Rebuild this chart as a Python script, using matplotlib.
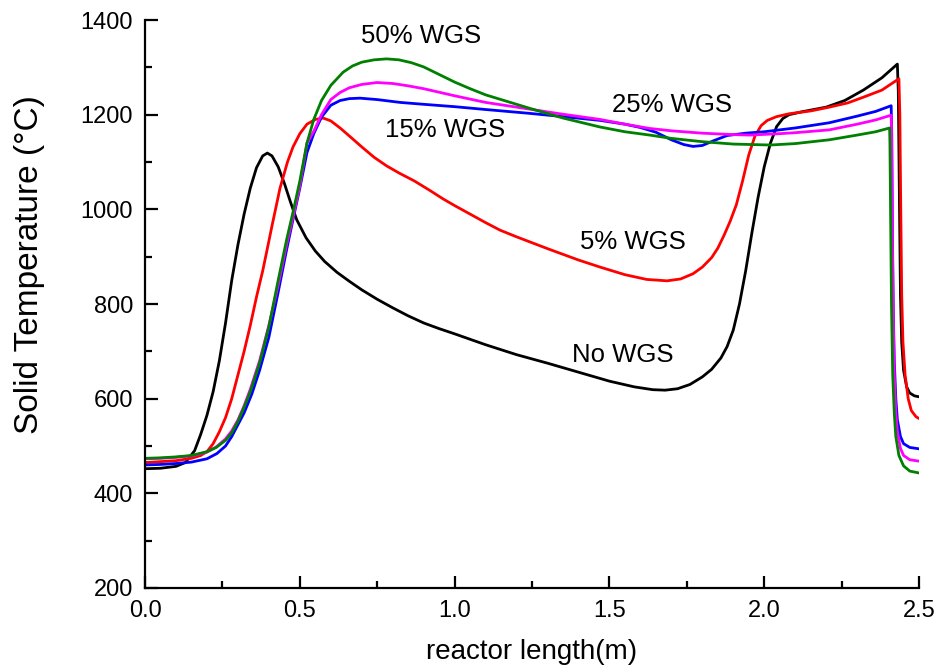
import matplotlib
matplotlib.use("Agg")
import matplotlib.pyplot as plt
from matplotlib.ticker import MultipleLocator, FormatStrFormatter

plt.rcParams['font.family'] = ['Liberation Sans', 'DejaVu Sans']

# ---- data ----
x_no = [0, 0.05, 0.1, 0.13, 0.16, 0.18, 0.2, 0.22, 0.24, 0.26, 0.28, 0.3, 0.32, 0.34, 0.36, 0.38,
        0.395, 0.41, 0.43, 0.45, 0.47, 0.49, 0.52, 0.55, 0.58, 0.62, 0.66, 0.7, 0.75, 0.8, 0.85,
        0.9, 0.95, 1.0, 1.1, 1.2, 1.3, 1.4, 1.5, 1.58, 1.64, 1.68, 1.72, 1.76, 1.8, 1.83, 1.86,
        1.88, 1.9, 1.92, 1.94, 1.96, 1.98, 2.0, 2.02, 2.04, 2.06, 2.08, 2.12, 2.2, 2.26, 2.32,
        2.38, 2.43, 2.433, 2.437, 2.44, 2.444, 2.45, 2.46, 2.47, 2.485, 2.5]
t_no = [452, 453, 457, 465, 490, 525, 565, 615, 680, 760, 850, 925, 990, 1045, 1088, 1113,
        1119, 1113, 1090, 1055, 1015, 978, 940, 912, 890, 867, 848, 830, 810, 792, 775,
        760, 748, 737, 714, 693, 675, 656, 637, 625, 619, 618, 621, 630, 646, 662, 686,
        710, 745, 800, 870, 950, 1025, 1090, 1140, 1175, 1192, 1200, 1206, 1216, 1230, 1252,
        1278, 1307, 1250, 1000, 820, 720, 660, 625, 612, 606, 604]

x_5 = [0, 0.05, 0.1, 0.15, 0.18, 0.2, 0.22, 0.24, 0.26, 0.28, 0.3, 0.32, 0.34, 0.36, 0.38, 0.394,
       0.41, 0.436, 0.46, 0.478, 0.5, 0.523, 0.55, 0.575, 0.6, 0.63, 0.66, 0.7, 0.74, 0.78, 0.82,
       0.87, 0.92, 0.963, 1.0, 1.05, 1.1, 1.147, 1.2, 1.3, 1.4, 1.47, 1.55, 1.62, 1.686, 1.73,
       1.77, 1.8, 1.83, 1.85, 1.87, 1.89, 1.91, 1.93, 1.95, 1.97, 1.99, 2.01, 2.04, 2.08, 2.15,
       2.21, 2.27, 2.32, 2.38, 2.435, 2.438, 2.441, 2.444, 2.448, 2.455, 2.465, 2.475, 2.49, 2.5]
t_5 = [465, 467, 469, 474, 480, 488, 505, 530, 560, 600, 650, 700, 755, 815, 870, 914,
       965, 1045, 1100, 1132, 1160, 1180, 1190, 1193, 1187, 1172, 1155, 1132, 1110, 1092, 1077,
       1060, 1040, 1022, 1008, 990, 972, 956, 942, 917, 893, 878, 862, 852, 849, 853,
       864, 878, 898, 918, 945, 975, 1010, 1060, 1115, 1155, 1177, 1188, 1196, 1202, 1208,
       1216, 1225, 1237, 1252, 1276, 1200, 1000, 820, 720, 650, 600, 575, 562, 558]

x_15 = [0, 0.05, 0.1, 0.15, 0.2, 0.232, 0.26, 0.28, 0.3, 0.32, 0.345, 0.37, 0.4, 0.43, 0.457, 0.48,
        0.5, 0.523, 0.545, 0.57, 0.6, 0.63, 0.66, 0.694, 0.75, 0.824, 0.9, 1.0, 1.1, 1.24, 1.35,
        1.47, 1.55, 1.6, 1.65, 1.7, 1.74, 1.77, 1.8, 1.84, 1.88, 1.94, 2.0, 2.1, 2.21, 2.3, 2.36,
        2.41, 2.412, 2.414, 2.417, 2.42, 2.425, 2.43, 2.44, 2.45, 2.47, 2.5]
t_15 = [460, 461, 463, 466, 473, 484, 500, 520, 545, 570, 610, 660, 730, 825, 914, 985,
        1045, 1120, 1160, 1195, 1220, 1230, 1234, 1235, 1232, 1226, 1222, 1217, 1211, 1203, 1196,
        1188, 1180, 1173, 1163, 1147, 1137, 1133, 1135, 1146, 1156, 1161, 1164, 1172, 1183, 1197, 1207,
        1219, 1150, 950, 780, 680, 600, 555, 520, 505, 497, 494]

x_25 = [0, 0.05, 0.1, 0.15, 0.2, 0.23, 0.26, 0.28, 0.3, 0.32, 0.34, 0.37, 0.4, 0.43, 0.457, 0.48,
        0.5, 0.523, 0.545, 0.57, 0.6, 0.63, 0.66, 0.7, 0.749, 0.8, 0.85, 0.9, 1.0, 1.1, 1.24, 1.35,
        1.47, 1.55, 1.63, 1.7, 1.8, 1.9, 1.954, 2.05, 2.1, 2.21, 2.3, 2.36, 2.41, 2.411, 2.413,
        2.416, 2.42, 2.425, 2.43, 2.44, 2.45, 2.47, 2.5]
t_25 = [473, 474, 476, 479, 487, 498, 515, 532, 555, 585, 620, 680, 755, 840, 925, 990,
        1050, 1140, 1165, 1200, 1232, 1247, 1257, 1264, 1268, 1266, 1261, 1255, 1240, 1226, 1212, 1201,
        1190, 1180, 1171, 1166, 1161, 1158, 1157, 1160, 1162, 1168, 1180, 1189, 1199, 1170, 1000,
        800, 650, 570, 530, 495, 480, 471, 468]

x_50 = [0, 0.05, 0.1, 0.15, 0.2, 0.23, 0.26, 0.28, 0.3, 0.32, 0.34, 0.37, 0.4, 0.43, 0.457, 0.48,
        0.5, 0.523, 0.545, 0.57, 0.6, 0.64, 0.67, 0.7, 0.74, 0.78, 0.82, 0.86, 0.9, 0.95, 1.0, 1.05,
        1.1, 1.17, 1.24, 1.35, 1.47, 1.55, 1.63, 1.7, 1.8, 1.9, 2.02, 2.1, 2.21, 2.3, 2.36, 2.405,
        2.406, 2.408, 2.411, 2.415, 2.42, 2.425, 2.435, 2.45, 2.47, 2.5]
t_50 = [474, 475, 477, 480, 488, 497, 512, 528, 552, 582, 615, 675, 752, 850, 935, 1000,
        1060, 1140, 1190, 1230, 1262, 1290, 1303, 1311, 1316, 1318, 1316, 1310, 1301, 1285, 1269, 1255,
        1242, 1228, 1214, 1193, 1174, 1164, 1157, 1150, 1143, 1138, 1136, 1139, 1147, 1157, 1164, 1172,
        1140, 1000, 800, 650, 570, 520, 480, 458, 447, 443]

series = [
    (x_no, t_no, 'black'),
    (x_5, t_5, '#ff0000'),
    (x_15, t_15, '#0000ff'),
    (x_25, t_25, '#ff00ff'),
    (x_50, t_50, '#008000'),
]

labels = ["50% WGS", "25% WGS", "15% WGS", "5% WGS", "No WGS"]
label_x = [0.891, 1.702, 0.969, 1.576, 1.544]
label_y = [1366, 1220, 1168, 931, 692]

fig = plt.figure(figsize=(9.4, 6.69), dpi=100)
ax = fig.add_axes([0.1543, 0.1211, 0.8234, 0.8489])

for xs, ts, c in series:
    ax.plot(xs, ts, color=c, lw=2.0, solid_joinstyle='round', solid_capstyle='round')

for s, lx, ly in zip(labels, label_x, label_y):
    ax.text(lx, ly, s, fontsize=18.5, ha='center', va='center')

ax.set_xlim(0, 2.5)
ax.set_ylim(200, 1400)
ax.xaxis.set_major_locator(MultipleLocator(0.5))
ax.xaxis.set_minor_locator(MultipleLocator(0.25))
ax.yaxis.set_major_locator(MultipleLocator(200))
ax.yaxis.set_minor_locator(MultipleLocator(100))
ax.xaxis.set_major_formatter(FormatStrFormatter('%.1f'))

for sp in ['top', 'right']:
    ax.spines[sp].set_visible(False)
for sp in ['left', 'bottom']:
    ax.spines[sp].set_linewidth(1.6)

ax.tick_params(which='major', direction='in', length=9, width=1.6, labelsize=17, pad=8.5)
ax.tick_params(which='minor', direction='in', length=5, width=1.6)

ax.set_xlabel('reactor length(m)', fontsize=20)
ax.xaxis.set_label_coords(0.5, -0.09)
ax.set_ylabel('Solid Temperature (\u00b0C)', fontsize=24)
ax.yaxis.set_label_coords(-0.129, 0.569)

fig.savefig('out.png', dpi=100)
